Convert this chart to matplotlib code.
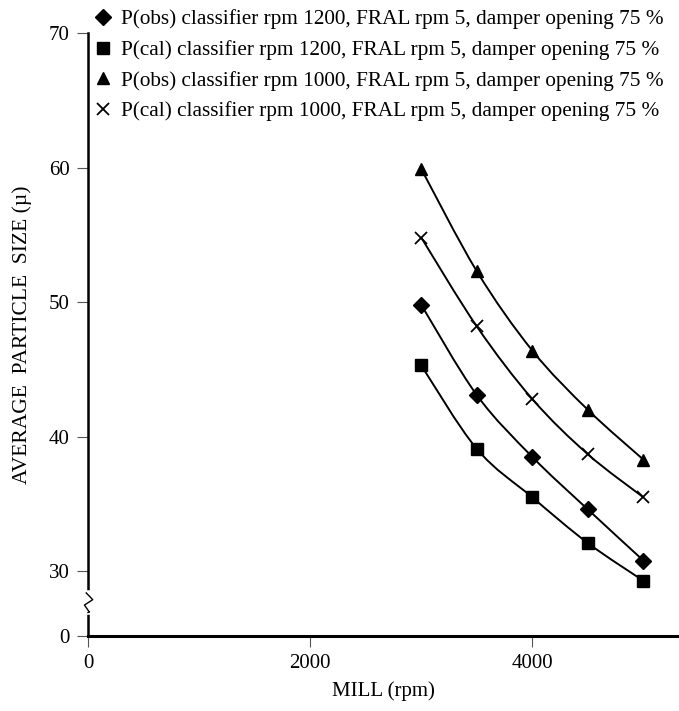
import numpy as np
import matplotlib
matplotlib.use("Agg")
import matplotlib.pyplot as plt
from matplotlib.path import Path
from matplotlib.patches import PathPatch
from matplotlib.lines import Line2D

plt.rcParams['font.family'] = ['Liberation Serif', 'DejaVu Serif']

# data
mill_rpm = [3000, 3500, 4000, 4500, 5000]
p_obs_1200 = [49.8, 43.1, 38.5, 34.6, 30.8]
p_cal_1200 = [45.3, 39.1, 35.5, 32.1, 29.3]
p_obs_1000 = [59.9, 52.3, 46.4, 42.0, 38.3]
p_cal_1000 = [54.8, 48.2, 42.8, 38.7, 35.5]
labels = [
    "P(obs) classifier rpm 1200, FRAL rpm 5, damper opening 75 %",
    "P(cal) classifier rpm 1200, FRAL rpm 5, damper opening 75 %",
    "P(obs) classifier rpm 1000, FRAL rpm 5, damper opening 75 %",
    "P(cal) classifier rpm 1000, FRAL rpm 5, damper opening 75 %",
]
y_ticks = [0, 30, 40, 50, 60, 70]
x_ticks = [0, 2000, 4000]

# broken y axis: 0..27 squeezed into a short strip
T, Z = 27.0, 25.2


def fwd(y):
    y = np.asarray(y, dtype=float)
    return np.where(y >= T, y, Z + y * (T - Z) / T)


def inv(u):
    u = np.asarray(u, dtype=float)
    return np.where(u >= T, u, (u - Z) * T / (T - Z))


def smooth_path(xs, ys):
    # Catmull-Rom style bezier through the points (like a spreadsheet smoothed line)
    pts = np.column_stack([xs, ys]).astype(float)
    ext = np.vstack([pts[0], pts, pts[-1]])
    verts = [pts[0]]
    codes = [Path.MOVETO]
    for i in range(len(pts) - 1):
        p0, p1, p2, p3 = ext[i], ext[i + 1], ext[i + 2], ext[i + 3]
        verts += [p1 + (p2 - p0) / 6, p2 - (p3 - p1) / 6, p2]
        codes += [Path.CURVE4] * 3
    return Path(verts, codes)


fs = 15

fig = plt.figure(figsize=(6.79, 7.11), dpi=100)
ax = fig.add_axes([88 / 679, 75 / 711, 1 - 88 / 679, 603 / 711])
ax.set_yscale('function', functions=(fwd, inv))

series = [p_obs_1200, p_cal_1200, p_obs_1000, p_cal_1000]
markers = ['D', 's', '^', 'x']
msizes = [8, 8.5, 9, 8]
for ys, m, ms in zip(series, markers, msizes):
    ax.add_patch(PathPatch(smooth_path(mill_rpm, ys), fc='none', ec='black', lw=1.4))
    if m == 'x':
        ax.plot(mill_rpm, ys, ls='none', marker=m, ms=ms, color='black', mew=1.3, zorder=3)
    else:
        ax.plot(mill_rpm, ys, ls='none', marker=m, ms=ms, color='black', zorder=3)

ax.set_xlim(0, 5320)
ax.set_ylim(0, 70)
ax.set_yticks(y_ticks)
ax.set_xticks(x_ticks)
ax.tick_params(direction='out', length=8, width=0.8, color='#555555', labelsize=fs, pad=5)
ax.spines['top'].set_visible(False)
ax.spines['right'].set_visible(False)
ax.spines['left'].set_linewidth(1.8)
ax.spines['bottom'].set_linewidth(2.2)

# break mark on the y axis
trans = ax.get_yaxis_transform()
ax.plot([0, 0], [26.2, 28.4], transform=trans, color='white', lw=4, clip_on=False, zorder=5)
ax.plot([-0.003, 0.008, -0.006, 0.002], [28.4, 27.9, 27.5, 26.9], transform=trans,
        color='black', lw=1.0, clip_on=False, zorder=6)
ax.plot([0.002, 0.0], [26.9, 26.2], transform=trans, color='black', lw=1.0, clip_on=False, zorder=6)

ax.set_xlabel('MILL (rpm)', fontsize=fs, labelpad=6)
ax.set_ylabel('AVERAGE  PARTICLE  SIZE (\u00b5)', fontsize=15.5, labelpad=12)

handles = []
for m, ms in zip(markers, msizes):
    handles.append(Line2D([], [], ls='none', marker=m, ms=ms, color='black',
                          mew=1.3 if m == 'x' else 1.0))
fig.legend(handles, labels, loc='upper left', bbox_to_anchor=(83 / 679, 1.0),
           frameon=False, fontsize=15.3, handletextpad=0.35, labelspacing=0.5,
           handlelength=1.0, borderaxespad=0.05)

fig.savefig('out.png', dpi=100)
